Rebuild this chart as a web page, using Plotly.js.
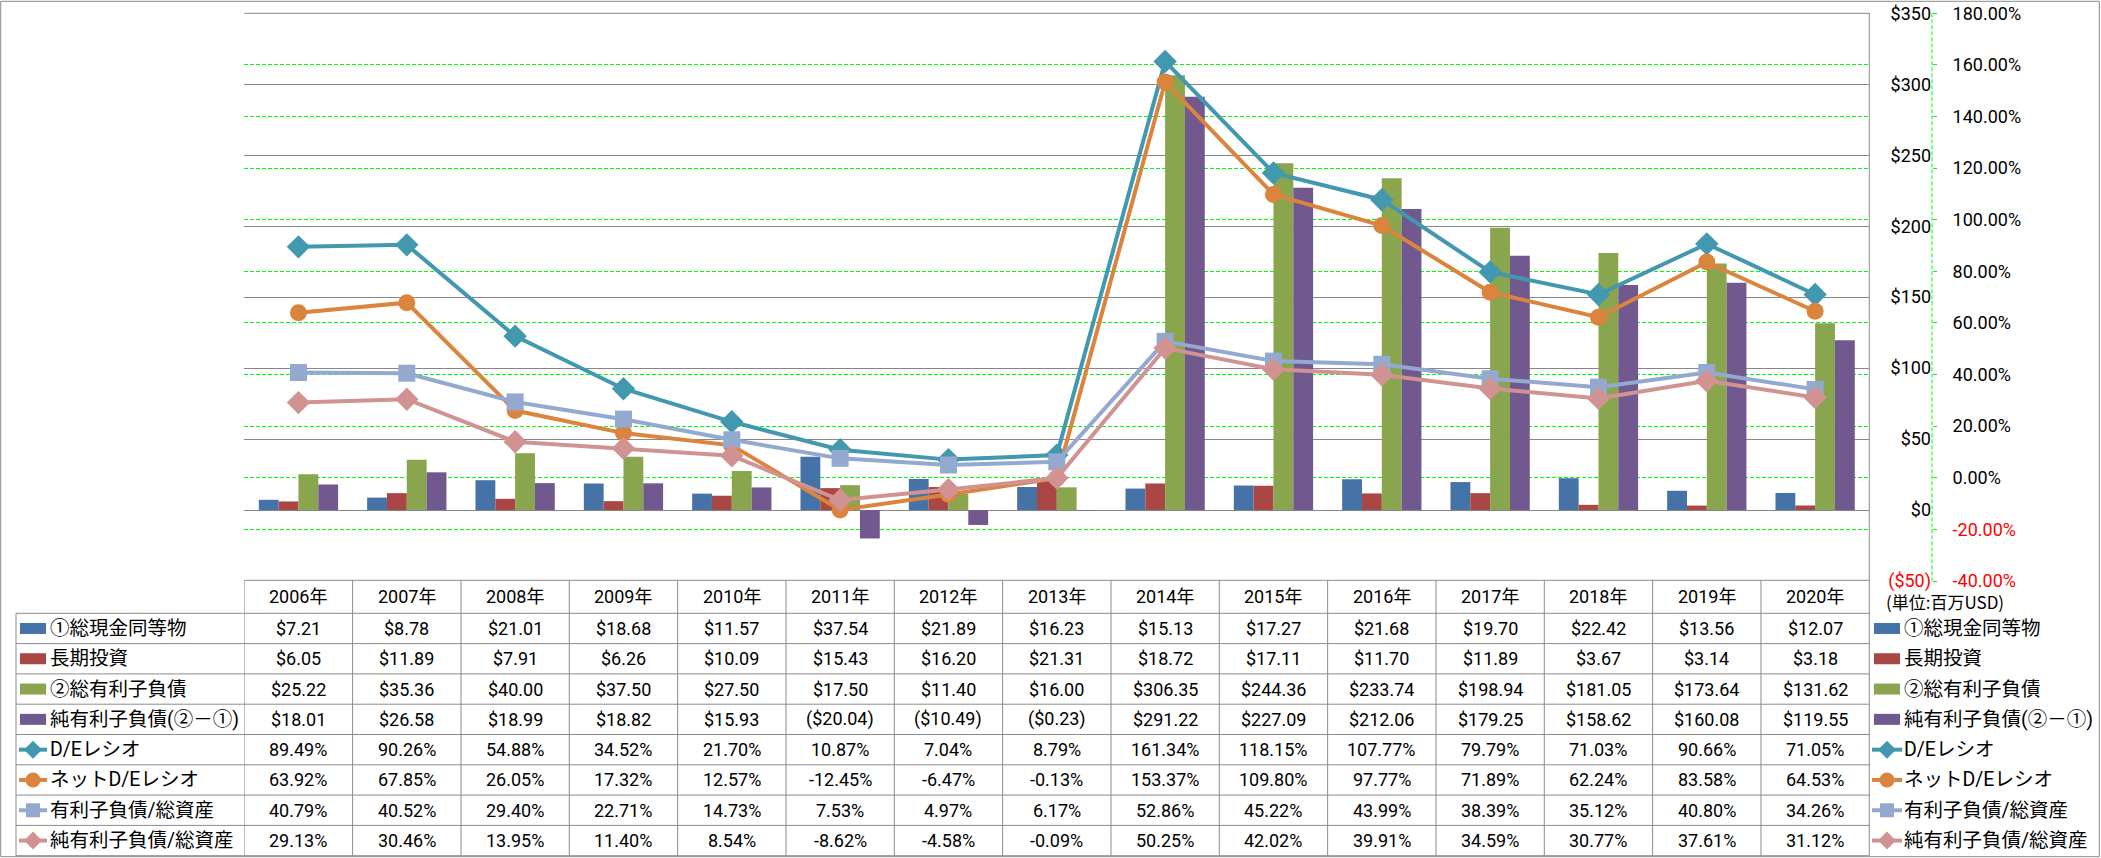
<!DOCTYPE html>
<html><head><meta charset="utf-8">
<script src="https://cdn.plot.ly/plotly-3.0.1.min.js"></script>
<style>html,body{margin:0;padding:0;background:#fff}#chart{width:2101px;height:858px}</style>
</head><body><div id="chart"></div>
<script>
// ---- data ----
const years = ['2006年','2007年','2008年','2009年','2010年','2011年','2012年','2013年','2014年','2015年','2016年','2017年','2018年','2019年','2020年'];
const cashEquivalents = [7.21,8.78,21.01,18.68,11.57,37.54,21.89,16.23,15.13,17.27,21.68,19.70,22.42,13.56,12.07];
const longTermInvestments = [6.05,11.89,7.91,6.26,10.09,15.43,16.20,21.31,18.72,17.11,11.70,11.89,3.67,3.14,3.18];
const totalDebt = [25.22,35.36,40.00,37.50,27.50,17.50,11.40,16.00,306.35,244.36,233.74,198.94,181.05,173.64,131.62];
const netDebt = [18.01,26.58,18.99,18.82,15.93,-20.04,-10.49,-0.23,291.22,227.09,212.06,179.25,158.62,160.08,119.55];
const deRatio = [89.49,90.26,54.88,34.52,21.70,10.87,7.04,8.79,161.34,118.15,107.77,79.79,71.03,90.66,71.05];
const netDeRatio = [63.92,67.85,26.05,17.32,12.57,-12.45,-6.47,-0.13,153.37,109.80,97.77,71.89,62.24,83.58,64.53];
const debtToAssets = [40.79,40.52,29.40,22.71,14.73,7.53,4.97,6.17,52.86,45.22,43.99,38.39,35.12,40.80,34.26];
const netDebtToAssets = [29.13,30.46,13.95,11.40,8.54,-8.62,-4.58,-0.09,50.25,42.02,39.91,34.59,30.77,37.61,31.12];

const seriesNames = ['①総現金同等物','長期投資','②総有利子負債','純有利子負債(②－①)','D/Eレシオ','ネットD/Eレシオ','有利子負債/総資産','純有利子負債/総資産'];
const usdTickVals = [-50,0,50,100,150,200,250,300,350];
const usdTickText = ['($50)','$0','$50','$100','$150','$200','$250','$300','$350'];
const pctTickVals = [-40,-20,0,20,40,60,80,100,120,140,160,180];
const pctTickText = ['-40.00%','-20.00%','0.00%','20.00%','40.00%','60.00%','80.00%','100.00%','120.00%','140.00%','160.00%','180.00%'];
const unitLabel = '(単位:百万USD)';

// ---- styles ----
const W = 2101, H = 858;
const PX = x => x / W;
const PY = y => 1 - y / H;
const FONT = 'Roboto, "Noto Sans CJK JP", sans-serif';
const barColors = ['#4572A7','#AA4643','#89A54E','#71588F'];
const lineColors = ['#4198AF','#DB843D','#93A9CF','#D19392'];
const symbols = ['diamond','circle','square','diamond'];
const msizes = [18,17,17,18];
const GRID = '#878787';
const TBL = '#8c8c8c';
const RED = '#FF0000';

const plotL = 244.3, plotR = 1869.3, plotT = 13.3, plotB = 581;
const headTop = 580.3, rowTop = 613.3, rowH = 30.3, nRows = 8;
const tableBottom = rowTop + rowH * nRows;
const legL = 16;

const barSeries = [cashEquivalents, longTermInvestments, totalDebt, netDebt];
const lineSeries = [deRatio, netDeRatio, debtToAssets, netDebtToAssets];

const traces = [];
barSeries.forEach((vals, k) => {
  traces.push({type:'bar', x: years, y: vals, name: seriesNames[k], xaxis:'x', yaxis:'y',
    marker:{color: barColors[k], line:{width:0}}, hoverinfo:'skip'});
});
lineSeries.forEach((vals, k) => {
  traces.push({type:'scatter', mode:'lines+markers', x: years, y: vals, name: seriesNames[4+k],
    xaxis:'x', yaxis:'y2', line:{color: lineColors[k], width: 4},
    marker:{symbol: symbols[k], size: msizes[k], color: lineColors[k], line:{width:0}}, hoverinfo:'skip'});
});

const colorTick = (t, v) => v < 0 ? `<span style="color:${RED}">${t}</span>` : t;

const fmtUsd = v => v < 0 ? '($' + Math.abs(v).toFixed(2) + ')' : '$' + v.toFixed(2);
const fmtPct = v => v.toFixed(2) + '%';

const annotations = [];
const shapes = [];
const txtFont = {family: FONT, size: 18, color: '#000'};
const legFont = {family: FONT, size: 19.5, color: '#000'};

// header
years.forEach(yr => annotations.push({xref:'x', yref:'paper', x: yr, y: PY((headTop + rowTop)/2),
  text: yr, showarrow:false, xanchor:'center', yanchor:'middle', font: txtFont}));
// rows
const allSeries = barSeries.concat(lineSeries);
allSeries.forEach((vals, r) => {
  const cy = rowTop + rowH * (r + 0.5);
  vals.forEach((v, i) => annotations.push({xref:'x', yref:'paper', x: years[i], y: PY(cy),
    text: r < 4 ? fmtUsd(v) : fmtPct(v), showarrow:false, xanchor:'center', yanchor:'middle', font: txtFont}));
  // legend labels left and right
  [[48, 33, 20, 46, 19, 47], [1902, 1887, 1874, 1900, 1872, 1902]].forEach(([tx, mx, rx0, rx1, lx0, lx1]) => {
    annotations.push({xref:'paper', yref:'paper', x: PX(tx), y: PY(cy), text: seriesNames[r],
      showarrow:false, xanchor:'left', yanchor:'middle', font: legFont});
    if (r < 4) {
      shapes.push({type:'rect', xref:'paper', yref:'paper', x0: PX(rx0), x1: PX(rx1), y0: PY(cy-5.5), y1: PY(cy+5.5),
        fillcolor: barColors[r], line:{width:0}});
    } else {
      const k = r - 4, c = lineColors[k];
      shapes.push({type:'line', xref:'paper', yref:'paper', x0: PX(lx0), x1: PX(lx1), y0: PY(cy), y1: PY(cy),
        line:{color: c, width: 4}});
      if (symbols[k] === 'diamond') {
        const h = 9;
        shapes.push({type:'path', xref:'paper', yref:'paper',
          path:`M ${PX(mx-h)},${PY(cy)} L ${PX(mx)},${PY(cy-h)} L ${PX(mx+h)},${PY(cy)} L ${PX(mx)},${PY(cy+h)} Z`,
          fillcolor: c, line:{width:0}});
      } else if (symbols[k] === 'circle') {
        shapes.push({type:'circle', xref:'paper', yref:'paper', x0: PX(mx-7.5), x1: PX(mx+7.5), y0: PY(cy+7.5), y1: PY(cy-7.5),
          fillcolor: c, line:{width:0}});
      } else {
        shapes.push({type:'rect', xref:'paper', yref:'paper', x0: PX(mx-7), x1: PX(mx+7), y0: PY(cy+7), y1: PY(cy-7),
          fillcolor: c, line:{width:0}});
      }
    }
  });
});
annotations.push({xref:'paper', yref:'paper', x: PX(1884), y: PY(601), text: unitLabel, showarrow:false,
  xanchor:'left', yanchor:'middle', font:{family:'"Noto Sans CJK JP", sans-serif', size: 17, color:'#000'}});

// table grid
const hl = (x0, x1, y, color) => shapes.push({type:'line', xref:'paper', yref:'paper', x0: PX(x0), x1: PX(x1), y0: PY(y), y1: PY(y), line:{color: color || TBL, width: 1}});
hl(plotL, plotR, plotT, GRID);
hl(plotL, plotR, headTop);
for (let k = 0; k <= nRows; k++) hl(legL, plotR, rowTop + rowH * k);
for (let i = 0; i < years.length; i++) {
  shapes.push({type:'line', xref:'x', yref:'paper', x0: i - 0.5, x1: i - 0.5, y0: PY(headTop), y1: PY(tableBottom), line:{color: TBL, width: 1}});
}
shapes.push({type:'line', xref:'paper', yref:'paper', x0: PX(plotR), x1: PX(plotR), y0: PY(plotT), y1: PY(tableBottom), line:{color: TBL, width: 1}});
shapes.push({type:'line', xref:'paper', yref:'paper', x0: PX(legL), x1: PX(legL), y0: PY(rowTop), y1: PY(tableBottom), line:{color: TBL, width: 1}});
// green dashed secondary axis line
shapes.push({type:'line', xref:'paper', yref:'paper', x0: PX(1932), x1: PX(1932), y0: PY(plotT), y1: PY(plotB), line:{color:'#00FF00', width: 1, dash:'4px,2px'}});
// outer chart border
shapes.push({type:'rect', xref:'paper', yref:'paper', x0: PX(0.7), x1: PX(2099.3), y0: PY(856.7), y1: PY(1.3), line:{color:'#8a8a8a', width: 1}, fillcolor:'rgba(0,0,0,0)'});

const layout = {
  width: W, height: H,
  margin: {l:0, r:0, t:0, b:0, pad:0},
  paper_bgcolor:'#fff', plot_bgcolor:'#fff',
  showlegend: false,
  barmode:'group', bargap: 0.268, bargroupgap: 0,
  xaxis: {domain:[PX(plotL), PX(plotR)], type:'category', range:[-0.5, years.length - 0.5], autorange:false,
    showticklabels:false, showgrid:false, zeroline:false,
    showline:false, ticks:'', automargin:false, fixedrange:true},
  yaxis: {domain:[PY(plotB), PY(plotT)], range:[-50,350], autorange:false, tickvals: usdTickVals,
    ticktext: usdTickText.map((t,i) => colorTick(t, usdTickVals[i])),
    side:'left', anchor:'free', position: PX(1931), showgrid:true, gridcolor: GRID, gridwidth:1,
    zeroline:false, showline:false, ticks:'', tickfont:{family: FONT, size: 18, color:'#000'}, automargin:false, fixedrange:true},
  yaxis2: {overlaying:'y', side:'right', anchor:'free', position: PX(1932), range:[-40,180], autorange:false, tickvals: pctTickVals,
    ticktext: pctTickText.map((t,i) => colorTick(t, pctTickVals[i])),
    showgrid:true, gridcolor:'#00FF00', griddash:'4px,2px', gridwidth:1, zeroline:false, showline:false,
    ticks:'outside', ticklen:4, tickwidth:1, tickcolor:'#00FF00', ticklabelstandoff: 12,
    tickfont:{family: FONT, size: 18, color:'#000'}, automargin:false, fixedrange:true},
  annotations, shapes
};

Plotly.newPlot('chart', traces, layout, {staticPlot:true, displayModeBar:false});
</script>
</body></html>
